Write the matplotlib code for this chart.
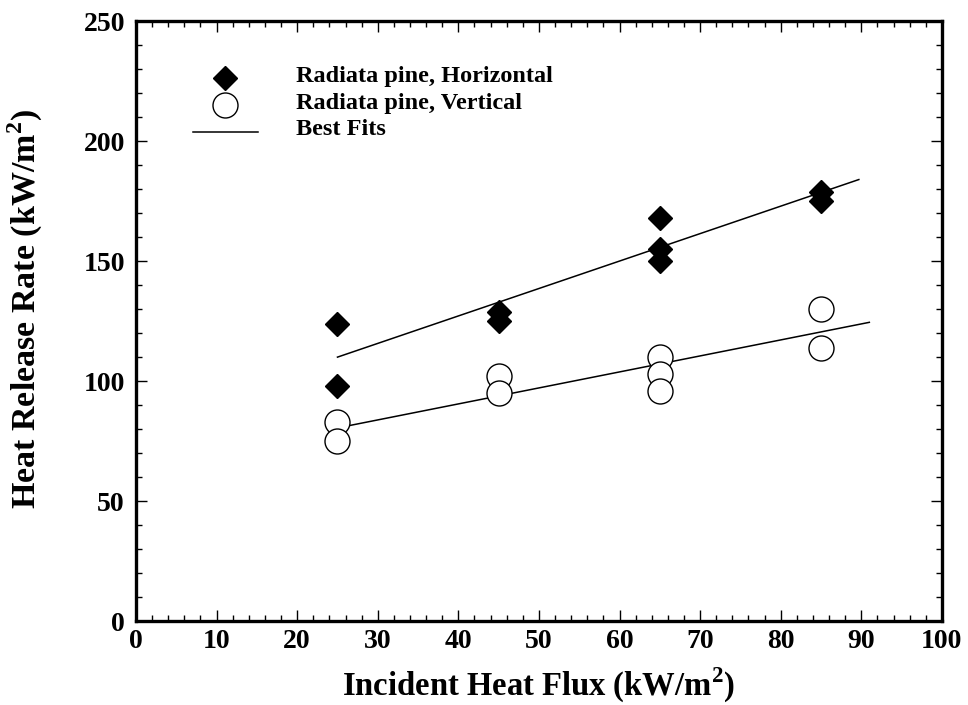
import matplotlib
matplotlib.use("Agg")
import matplotlib.pyplot as plt
from matplotlib.ticker import MultipleLocator

# data
horiz_x = [25, 25, 45, 45, 65, 65, 65, 85, 85]
horiz_y = [124, 98, 129, 125, 168, 155, 150, 179, 175]

vert_x = [25, 25, 45, 45, 65, 65, 65, 85, 85]
vert_y = [83, 75, 102, 95, 110, 103, 96, 130, 114]

# best-fit line end points
fit_h_x = [25, 89.7]
fit_h_y = [110, 184]
fit_v_x = [26.5, 91]
fit_v_y = [81.5, 124.5]

plt.rcParams["font.family"] = ["Liberation Serif", "DejaVu Serif"]
plt.rcParams["font.weight"] = "bold"
plt.rcParams["mathtext.fontset"] = "custom"
plt.rcParams["mathtext.rm"] = "Liberation Serif:bold"
plt.rcParams["mathtext.bf"] = "Liberation Serif:bold"

fig = plt.figure(figsize=(9.68, 7.05), dpi=100)
ax = fig.add_axes([0.1405, 0.119, 0.8325, 0.851])

ax.plot(fit_h_x, fit_h_y, color="black", lw=1.1, zorder=2)
ax.plot(fit_v_x, fit_v_y, color="black", lw=1.1, zorder=2)
ax.plot(horiz_x, horiz_y, "D", color="black", ms=12, zorder=3)
ax.plot(vert_x, vert_y, "o", mfc="white", mec="black", mew=1.0, ms=18, zorder=3)

ax.set_xlim(0, 100)
ax.set_ylim(0, 250)
ax.xaxis.set_major_locator(MultipleLocator(10))
ax.xaxis.set_minor_locator(MultipleLocator(2))
ax.yaxis.set_major_locator(MultipleLocator(50))
ax.yaxis.set_minor_locator(MultipleLocator(10))
ax.tick_params(which="both", direction="in", top=True, right=True,
               labelsize=20, width=1.0)
ax.tick_params(which="major", length=8)
ax.tick_params(which="minor", length=4)
ax.tick_params(axis="x", pad=6)
ax.tick_params(axis="y", pad=8)
for lbl in ax.get_xticklabels() + ax.get_yticklabels():
    lbl.set_fontweight("bold")
for sp in ax.spines.values():
    sp.set_linewidth(2.4)

ax.set_xlabel("Incident Heat Flux (kW/m$^{\\mathrm{2}}$)", fontsize=23.5,
              fontweight="bold", labelpad=8)
ax.set_ylabel("Heat Release Rate (kW/m$^{\\mathrm{2}}$)", fontsize=24.5,
              fontweight="bold")
ax.yaxis.set_label_coords(-0.113, 0.52)

# legend drawn by hand in axes coordinates
leg_x = 0.111
ax.plot([leg_x], [0.905], "D", color="black", ms=12, transform=ax.transAxes, clip_on=False)
ax.plot([leg_x], [0.86], "o", mfc="white", mec="black", mew=1.0, ms=18,
        transform=ax.transAxes, clip_on=False)
ax.plot([0.071, 0.151], [0.815, 0.815], color="black", lw=1.1, transform=ax.transAxes)
ax.text(0.199, 0.907, "Radiata pine, Horizontal", transform=ax.transAxes,
        fontsize=17.5, fontweight="bold", va="center")
ax.text(0.199, 0.863, "Radiata pine, Vertical", transform=ax.transAxes,
        fontsize=17.5, fontweight="bold", va="center")
ax.text(0.199, 0.819, "Best Fits", transform=ax.transAxes,
        fontsize=17.5, fontweight="bold", va="center")

fig.savefig("out.png", dpi=100)
